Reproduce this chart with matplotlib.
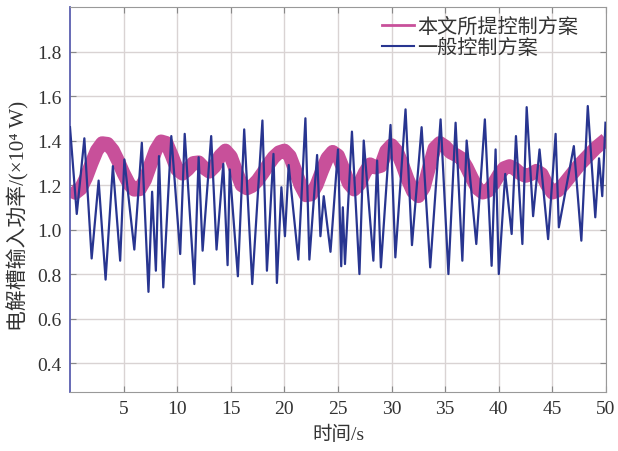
import matplotlib
matplotlib.use("Agg")
import matplotlib.pyplot as plt
import numpy as np
from matplotlib.lines import Line2D

# ---- data ----
blue_t = [0.0, 0.63, 1.34, 2.02, 2.67, 3.32, 4.0, 4.68, 5.07, 6.0, 6.7, 7.32, 7.66, 8.01,
          8.3, 8.7, 9.45, 10.28, 10.7, 11.6, 12.0, 12.37, 13.17, 13.67, 14.3, 14.7, 14.9,
          15.66, 16.25, 17.0, 17.95, 18.37, 18.98, 19.3, 19.72, 20.05, 20.4, 21.3, 21.96,
          22.33, 23.05, 23.36, 23.67, 24.3, 25.0, 25.3, 25.45, 25.65, 26.3, 27.0, 27.4,
          28.3, 28.65, 29.0, 29.9, 30.35, 31.3, 31.9, 32.8, 33.6, 34.57, 35.3, 35.97, 36.6,
          37.0, 37.9, 38.7, 39.33, 39.7, 40.0, 40.6, 41.2, 41.6, 42.2, 42.6, 43.2, 43.8,
          44.6, 45.3, 45.6, 47.0, 47.7, 48.3, 49.0, 49.35, 49.65, 49.95]
blue_v = [1.46, 1.07, 1.41, 0.87, 1.22, 0.775, 1.285, 0.86, 1.315, 0.91, 1.39, 0.72, 1.17, 0.815,
          1.33, 0.74, 1.42, 0.89, 1.43, 0.755, 1.325, 0.905, 1.42, 0.91, 1.295, 0.84, 1.27,
          0.79, 1.45, 0.755, 1.49, 0.815, 1.34, 0.76, 1.19, 0.97, 1.29, 0.865, 1.50,
          0.865, 1.335, 0.97, 1.15, 0.90, 1.36, 0.835, 1.10, 0.845, 1.44, 0.80, 1.40,
          0.86, 1.31, 0.83, 1.47, 0.875, 1.54, 0.93, 1.46, 0.83, 1.495, 0.80, 1.48, 0.86,
          1.40, 0.935, 1.495, 0.837, 1.36, 0.80, 1.25, 0.98, 1.42, 0.935, 1.55, 1.06, 1.36,
          0.957, 1.43, 1.01, 1.375, 0.95, 1.555, 1.055, 1.32, 1.15, 1.48]

pink_t = [i * 0.5 for i in range(101)]
pink_v = [1.18, 1.165, 1.184, 1.233, 1.297, 1.355, 1.388, 1.385, 1.356, 1.307,
          1.252, 1.205, 1.179, 1.181, 1.223, 1.291, 1.357, 1.396, 1.389, 1.332,
          1.269, 1.251, 1.271, 1.299, 1.302, 1.277, 1.26, 1.284, 1.331, 1.355,
          1.328, 1.263, 1.20, 1.185, 1.196, 1.221, 1.255, 1.292, 1.325, 1.347,
          1.355, 1.33, 1.267, 1.20, 1.154, 1.158, 1.20, 1.263, 1.321, 1.349,
          1.332, 1.272, 1.208, 1.18, 1.204, 1.256, 1.293, 1.279, 1.286, 1.353,
          1.379, 1.351, 1.292, 1.225, 1.171, 1.15, 1.189, 1.28, 1.365, 1.389,
          1.373, 1.347, 1.335, 1.32, 1.28, 1.23, 1.185, 1.166, 1.174, 1.205,
          1.245, 1.276, 1.285, 1.273, 1.252, 1.241, 1.249, 1.264, 1.249, 1.20,
          1.166, 1.175, 1.20, 1.23, 1.26, 1.29, 1.315, 1.34, 1.365, 1.385, 1.405]

labels = ["本文所提控制方案", "一般控制方案"]
xticks = [5, 10, 15, 20, 25, 30, 35, 40, 45, 50]
yticks = [0.4, 0.6, 0.8, 1.0, 1.2, 1.4, 1.6, 1.8]

serif = ["Liberation Serif", "DejaVu Serif"]
mixed = ["Liberation Serif", "Noto Sans CJK SC", "DejaVu Sans"]
cjk = ["Noto Sans CJK SC", "DejaVu Sans"]

fig = plt.figure(figsize=(6.18, 4.52), dpi=100)
ax = fig.add_axes([70 / 618, 1 - 393 / 452, 536 / 618, 385 / 452])

pink_c = "#c8509a"
blue_c = "#283590"
ax.plot(pink_t, pink_v, color=pink_c, lw=10, solid_joinstyle="round",
        solid_capstyle="butt", zorder=2)
ax.plot(blue_t, blue_v, color=blue_c, lw=1.6, zorder=3)

ax.set_xlim(0, 50)
ax.set_ylim(0.27, 2.0)
ax.set_xticks(xticks)
ax.set_yticks(yticks)
ax.set_xticklabels([str(x) for x in xticks], fontfamily=serif, fontsize=14)
ax.set_yticklabels(["%.1f" % y for y in yticks], fontfamily=serif, fontsize=14)
ax.grid(True, color="#d9d3d3", lw=1.0)
ax.set_axisbelow(True)
ax.tick_params(direction="in", length=4, color="#888888", top=True, right=True,
               labelcolor="#333333", pad=6)
for s in ["bottom", "top", "right"]:
    ax.spines[s].set_color("#999999")
ax.spines["left"].set_color("#5b5fb0")
ax.spines["left"].set_linewidth(1.3)

ax.set_xlabel("时间/s", fontfamily=mixed, fontsize=14, color="#333333", labelpad=5)
ax.set_ylabel("电解槽输入功率/(×10⁴ W)", fontfamily=mixed, fontsize=15,
              color="#333333")
ax.yaxis.set_label_coords(-0.076, 0.46)

handles = [Line2D([], [], color=pink_c, lw=2), Line2D([], [], color=blue_c, lw=1.5)]
leg = ax.legend(handles, labels, loc="upper right", frameon=False,
                prop={"family": cjk, "size": 14.5}, handlelength=1.6,
                handletextpad=0.15, labelspacing=0.0, borderaxespad=0.05,
                bbox_to_anchor=(0.965, 1.0))
for t in leg.get_texts():
    t.set_color("#333333")

fig.savefig("out.png", dpi=100, facecolor="white")
